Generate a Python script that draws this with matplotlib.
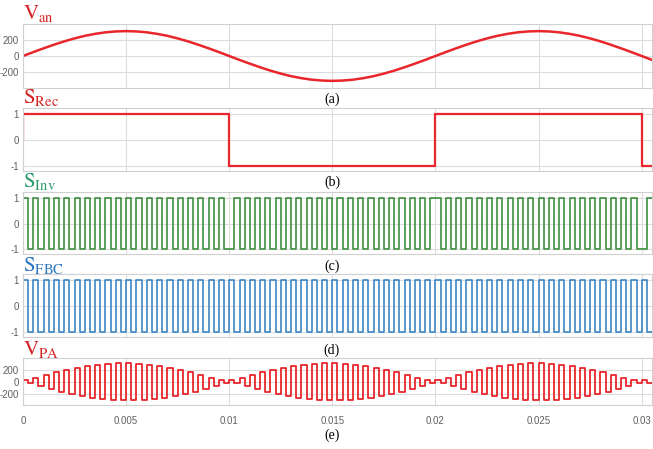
import numpy as np
import matplotlib
matplotlib.use('Agg')
import matplotlib.pyplot as plt

plt.rcParams['mathtext.fontset'] = 'stix'
plt.rcParams['font.family'] = 'Liberation Sans'
plt.rcParams['axes.unicode_minus'] = False

# phase voltage Van [V], read every 0.5 ms from 0 to 30.5 ms
van = [0, 49, 96, 141, 183, 220, 252, 277, 296, 307,
       311, 307, 296, 277, 252, 220, 183, 141, 96, 49,
       0, -49, -96, -141, -183, -220, -252, -277, -296, -307,
       -311, -307, -296, -277, -252, -220, -183, -141, -96, -49,
       0, 49, 96, 141, 183, 220, 252, 277, 296, 307,
       311, 307, 296, 277, 252, 220, 183, 141, 96, 49,
       0, -49]
van_step = 0.0005

# rectifier switching state
rec_times = [0.0, 0.01, 0.02, 0.03]
rec_levels = [1, -1, 1, -1]
rec_init = 0

# full bridge carrier: 2 kHz, +1 first half, -1 second half
sw_half = 0.00025
fbc_pattern = [1, -1]
fbc_init = -1

t_end = 0.0305
xticks = [0, 0.005, 0.01, 0.015, 0.02, 0.025, 0.03]
xtick_labels = ['0', '0.005', '0.01', '0.015', '0.02', '0.025', '0.03']

titles = [r'$\mathrm{V_{an}}$', r'$\mathrm{S_{Rec}}$', r'$\mathrm{S_{Inv}}$',
          r'$\mathrm{S_{FBC}}$', r'$\mathrm{V_{PA}}$']
captions = ['(a)', '(b)', '(c)', '(d)', '(e)']

#---------------------------------------------------------------------------#
van = np.array(van, dtype=float)
t_van = np.arange(len(van)) * van_step

n_half = int(round(t_end / sw_half))
t_sw = np.round(np.arange(n_half + 1) * sw_half, 7)
fbc = np.tile(fbc_pattern, n_half // 2)

idx = np.searchsorted(np.array(rec_times), t_sw[:-1] + 1e-9, side='right') - 1
rec_sw = np.array(rec_levels)[idx]
inv = rec_sw * fbc

amp = np.abs(van)
cyc = np.arange(n_half) // 2
vpa = 0.5 * (amp[cyc] + amp[cyc + 1]) * fbc


def steps(levels, init):
    x = np.concatenate([[0.0], t_sw])
    y = np.concatenate([[init], levels, [levels[-1]]])
    return x, y


red = '#E8262C'
green = '#3E8E3E'
blue = '#3D86C6'
title_colors = ['#D42222', '#D42222', '#2E9C6C', '#2F78BE', '#D42222']

W, H = 653.0, 449.0
boxes = [(24, 88), (108, 171), (192, 254), (274, 337), (358, 405)]
title_y = [13, 97, 181, 265, 350]
cap_y = [99, 182, 266, 350, 435]

fig = plt.figure(figsize=(W / 100, H / 100), dpi=100)
axes = []
for top, bot in boxes:
    ax = fig.add_axes([23 / W, 1 - bot / H, (652 - 23) / W, (bot - top) / H])
    axes.append(ax)

axes[0].plot(t_van, van, color=red, lw=1.8)
axes[0].set_ylim(-400, 400)
axes[0].set_yticks([-200, 0, 200])

x, y = steps(rec_sw, rec_init)
axes[1].plot(x, y, color=red, lw=1.6, drawstyle='steps-post')

x, y = steps(inv, fbc_init)
axes[2].plot(x, y, color=green, lw=1.2, drawstyle='steps-post')

x, y = steps(fbc, fbc_init)
axes[3].plot(x, y, color=blue, lw=1.2, drawstyle='steps-post')

for ax in axes[1:4]:
    ax.set_ylim(-1.2, 1.25)
    ax.set_yticks([-1, 0, 1])

x, y = steps(vpa, 0.0)
axes[4].plot(x, y, color=red, lw=1.3, drawstyle='steps-post')
axes[4].set_ylim(-385, 400)
axes[4].set_yticks([-200, 0, 200])

for i, ax in enumerate(axes):
    ax.set_xlim(0, t_end)
    ax.set_xticks(xticks)
    if i == 4:
        ax.set_xticklabels(xtick_labels)
    else:
        ax.set_xticklabels([])
    ax.grid(True, color='#DCDCDC', lw=0.8)
    ax.set_axisbelow(True)
    for s in ax.spines.values():
        s.set_color('#D0D0D0')
        s.set_linewidth(0.8)
    ax.tick_params(length=0, labelsize=7, labelcolor='#606060', pad=3)
    ax.tick_params(axis='x', pad=8)
    fig.text(23 / W, 1 - title_y[i] / H, titles[i], color=title_colors[i],
             fontsize=15, ha='left', va='center')
    fig.text(332 / W, 1 - cap_y[i] / H, captions[i], color='black',
             fontsize=10, family='Liberation Serif', ha='center', va='center')

fig.savefig('out.png', dpi=100)
